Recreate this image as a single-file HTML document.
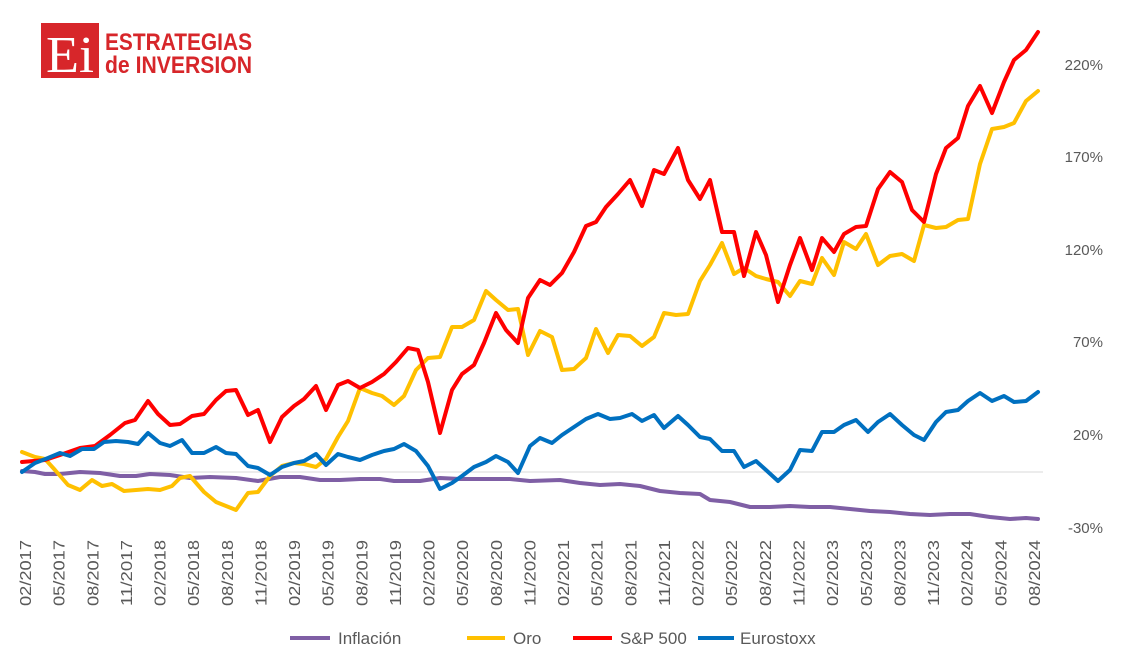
<!DOCTYPE html>
<html><head><meta charset="utf-8"><style>html,body{margin:0;padding:0;background:#fff}svg{display:block}</style></head><body>
<svg width="1123" height="658" viewBox="0 0 1123 658" xmlns="http://www.w3.org/2000/svg" font-family="Liberation Sans, sans-serif">
<rect width="1123" height="658" fill="#fff"/>
<!-- logo -->
<rect x="41" y="23" width="58" height="55" fill="#d7262a"/>
<text x="70" y="72" font-family="Liberation Serif, serif" font-size="52" fill="#fff" text-anchor="middle" textLength="48" lengthAdjust="spacingAndGlyphs">Ei</text>
<text x="105" y="50" font-size="24" font-weight="bold" fill="#d7262a" textLength="147" lengthAdjust="spacingAndGlyphs">ESTRATEGIAS</text>
<text x="105" y="73" font-size="24" font-weight="bold" fill="#d7262a" textLength="147" lengthAdjust="spacingAndGlyphs">de INVERSION</text>
<!-- baseline -->
<line x1="22" y1="472" x2="1043" y2="472" stroke="#d9d9d9" stroke-width="1"/>
<!-- right axis labels -->
<g font-size="15" fill="#595959" text-anchor="end">
<text x="1103" y="70">220%</text><text x="1103" y="162">170%</text><text x="1103" y="255">120%</text><text x="1103" y="347">70%</text><text x="1103" y="440">20%</text><text x="1103" y="533">-30%</text>
</g>
<!-- x labels -->
<g font-size="16" fill="#595959" text-anchor="middle" id="xl"></g>
<g fill="none" stroke-width="4" stroke-linejoin="round" stroke-linecap="round">
<polyline stroke="#7f5fa5" points="22,471 35,472 45,474 60,474 80,472 100,473 120,476 136,476 150,474 170,475 190,478 210,477 236,478 258,481 280,477 300,477 320,480 340,480 360,479 380,479 394,481 420,481 440,478 460,479 480,479 510,479 530,481 560,480 580,483 600,485 620,484 640,486 660,491 680,493 700,494 710,500 730,502 750,507 770,507 790,506 810,507 830,507 850,509 870,511 890,512 910,514 930,515 950,514 970,514 990,517 1010,519 1026,518 1038,519"/>
<polyline stroke="#ffc000" points="22,452 35,457 45,459 55,470 68,485 80,490 92,480 102,486 112,484 124,491 136,490 148,489 160,490 172,486 180,478 190,476 204,492 216,502 226,506 236,510 248,493 258,492 270,476 282,466 294,463 304,464 316,467 326,459 338,437 348,421 360,388 372,393 382,396 394,405 404,396 416,370 428,358 440,357 452,327 462,327 474,320 486,291 496,300 508,310 518,309 528,355 540,331 552,337 562,370 574,369 586,358 596,329 608,353 618,335 630,336 642,346 654,337 664,313 676,315 688,314 700,281 710,265 722,243 734,274 744,268 756,276 766,279 778,282 790,296 800,281 812,284 822,258 834,275 844,242 856,249 866,234 878,265 890,256 902,254 914,261 924,225 936,228 946,227 958,220 968,219 980,164 992,129 1004,127 1014,123 1026,101 1038,91"/>
<polyline stroke="#ff0000" points="22,462 45,460 60,455 80,448 95,446 110,435 125,423 135,420 148,401 158,414 170,425 180,424 192,416 204,414 216,400 226,391 236,390 248,415 258,410 270,442 282,417 294,406 304,399 316,386 326,410 338,385 348,381 360,388 372,382 384,374 396,362 408,348 418,350 428,382 440,433 452,390 462,374 474,365 484,343 496,313 506,330 518,343 528,298 540,280 550,285 562,273 574,252 586,226 596,222 606,207 618,194 630,180 642,206 654,170 664,174 678,148 688,180 700,199 710,180 722,232 734,232 744,276 756,232 766,255 778,302 790,265 800,238 812,270 822,238 834,252 844,234 856,227 866,226 878,189 890,172 902,182 912,210 924,222 936,174 946,148 958,138 968,106 980,86 992,113 1004,82 1014,60 1026,50 1038,32"/>
<polyline stroke="#0070c0" points="22,472 35,463 48,458 60,453 70,456 82,449 94,449 104,442 116,441 128,442 138,444 148,433 160,443 170,446 182,440 192,453 204,453 216,447 226,453 236,454 248,466 258,468 270,475 282,467 294,463 304,461 316,454 326,465 338,454 348,457 360,460 372,455 384,451 394,449 404,444 416,451 428,466 440,489 452,483 462,476 474,467 486,462 496,456 508,462 518,473 530,446 540,438 552,443 562,435 574,427 586,419 598,414 610,419 620,418 632,414 642,421 654,415 664,428 678,416 688,425 700,437 710,439 722,451 734,451 744,467 756,461 766,470 778,481 790,470 800,450 812,451 822,432 834,432 844,425 856,420 868,432 878,422 890,414 902,425 914,435 924,440 936,422 946,412 958,410 968,401 980,393 992,401 1004,396 1014,402 1026,401 1038,392"/>
</g>
<!-- legend -->
<g stroke-width="4">
<line x1="290" y1="638" x2="330" y2="638" stroke="#7f5fa5"/>
<line x1="467" y1="638" x2="505" y2="638" stroke="#ffc000"/>
<line x1="573" y1="638" x2="612" y2="638" stroke="#ff0000"/>
<line x1="698" y1="638" x2="734" y2="638" stroke="#0070c0"/>
</g>
<g font-size="17" fill="#595959">
<text x="338" y="644">Inflación</text><text x="513" y="644">Oro</text><text x="620" y="644">S&amp;P 500</text><text x="740" y="644">Eurostoxx</text>
</g>
</svg>
<script>
var g=document.getElementById('xl');var ns='http://www.w3.org/2000/svg';
for(var i=0;i<=30;i++){var m=2+3*i;var y=2017+Math.floor((m-1)/12);var mm=((m-1)%12)+1;
var x=25+i*33.63;var t=document.createElementNS(ns,'text');t.setAttribute('transform','translate('+(x+6)+',573) rotate(-90)');
t.setAttribute('textLength','66');t.setAttribute('lengthAdjust','spacingAndGlyphs');
t.textContent=(mm<10?'0':'')+mm+'/'+y;g.appendChild(t);}
</script>
</body></html>
